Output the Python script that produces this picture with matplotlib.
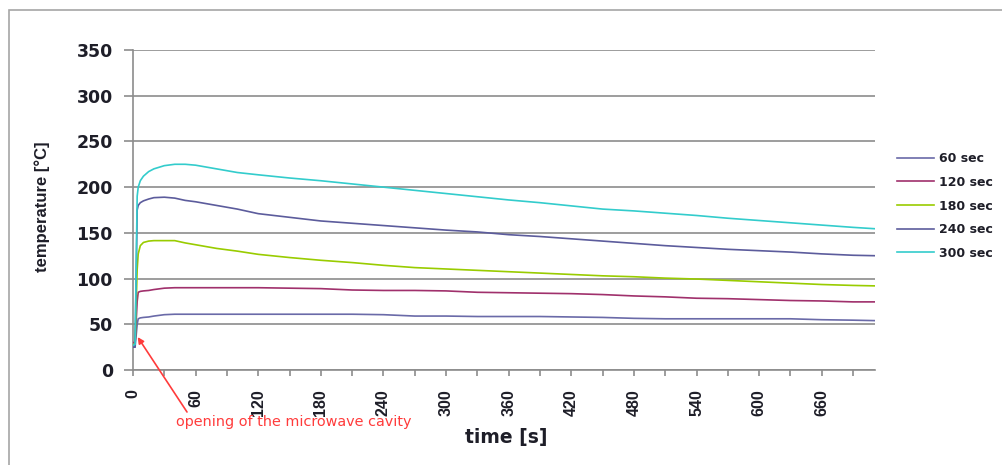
import matplotlib
matplotlib.use("Agg")

import matplotlib.pyplot as plt
from matplotlib.patches import Rectangle

# ── Data ────────────────────────────────────────────────────────────────────
time_s = [0, 2, 4, 5, 7, 10, 15, 20, 30, 40, 50, 60, 80, 100, 120, 150, 180,
          210, 240, 270, 300, 330, 360, 390, 420, 450, 480, 510, 540, 570,
          600, 630, 660, 690, 711]

t_60 = [25, 25, 50, 56, 57, 57.5, 58, 59, 60.5, 61, 61, 61, 61, 61, 61, 61, 61,
        61, 60.5, 59, 59, 58.5, 58.5, 58.5, 58, 57.5, 56.5, 56, 56, 56,
        56, 56, 55, 54.5, 54]
t_120 = [30, 30, 75, 85, 86, 86.5, 87, 88, 89.5, 90, 90, 90, 90, 90, 90, 89.5, 89,
         87.5, 87, 87, 86.5, 85, 84.5, 84, 83.5, 82.5, 81, 80, 78.5, 78,
         77, 76, 75.5, 74.5, 74.5]
t_180 = [28, 28, 110, 127, 136, 139.5, 141, 141.5, 141.5, 141.5, 139, 137, 133, 130, 126.5, 123, 120,
         117.5, 114.5, 112, 110.5, 109, 107.5, 106, 104.5, 103, 102, 100.5, 99.5, 98,
         96.5, 95, 93.5, 92.5, 92]
t_240 = [25, 25, 175, 180, 183, 185, 187, 188.5, 189, 188, 185.5, 184, 180, 176, 171, 167, 163,
         160.5, 158, 155.5, 153, 151, 148, 146, 143.5, 141, 138.5, 136, 134, 132,
         130.5, 129, 127, 125.5, 125]
t_300 = [27, 28, 190, 200, 207, 212, 217, 220, 223.5, 225, 225, 224, 220, 216, 213.5, 210, 207,
         203.5, 200, 196.5, 193, 189.5, 186, 183, 179.5, 176, 174, 171.5, 169, 166,
         163.5, 161, 158.5, 156, 154.5]

labels = ["60 sec", "120 sec", "180 sec", "240 sec", "300 sec"]
colors = ["#6a6aa8", "#a0306c", "#99cc00", "#5c5c9c", "#33cccc"]

y_ticks = [0, 50, 100, 150, 200, 250, 300, 350]
x_ticks = list(range(0, 691, 30))
x_labels = [str(v) if v % 60 == 0 else "" for v in x_ticks]

# ── Style ───────────────────────────────────────────────────────────────────
W, H = 1002, 465
_GRID = "#8c8c8c"
_TXT = "#1e1e28"
_RED = "#ff3b3b"
_NARROW = "Liberation Sans"   # rotated text: narrower digits than DejaVu
plt.rcParams["font.family"] = ["DejaVu Sans"]

fig = plt.figure(figsize=(W / 100, H / 100), dpi=100)
fig.patch.set_facecolor("white")

# outer chart border
fig.patches.append(Rectangle((9 / W, -0.05), 1.1, 1 - 10 / H + 0.05,
                             transform=fig.transFigure, fill=False,
                             edgecolor="#a6a6a6", linewidth=1.2))

ax = fig.add_axes([133 / W, (H - 370) / H, 742 / W, 320 / H])

for vals, lab, col in zip([t_60, t_120, t_180, t_240, t_300], labels, colors):
    ax.plot(time_s, vals, color=col, linewidth=1.2, label=lab, zorder=3)

ax.set_xlim(0, 711)
ax.set_ylim(0, 350)
ax.set_yticks(y_ticks)
ax.set_xticks(x_ticks)
ax.set_xticklabels(x_labels, rotation=90, va="top")

ax.grid(axis="y", color=_GRID, linewidth=1.2)
ax.set_axisbelow(True)
for side in ("top", "right"):
    ax.spines[side].set_visible(False)
for side in ("left", "bottom"):
    ax.spines[side].set_color(_GRID)
    ax.spines[side].set_linewidth(1.2)

ax.tick_params(axis="y", direction="out", length=6.5, width=1.2, color=_GRID,
               pad=8, labelsize=12.5, labelcolor=_TXT)
ax.tick_params(axis="x", direction="out", length=4.5, width=1.2, color=_GRID,
               pad=9, labelsize=11.5, labelcolor=_TXT)
for lbl in ax.get_yticklabels():
    lbl.set_fontweight("bold")
for lbl in ax.get_xticklabels():
    lbl.set_fontweight("bold")
    lbl.set_family(_NARROW)

fig.text(42 / W, 1 - 207 / H, "temperature [°C]", rotation=90,
         ha="center", va="center", fontsize=12, fontweight="bold",
         family=_NARROW, color=_TXT)
fig.text(506 / W, 1 - 437 / H, "time [s]", ha="center", va="center",
         fontsize=13.5, fontweight="bold", color=_TXT)

# annotation
ax.annotate("", xy=(4.5, 36), xytext=(187 / W, 1 - 412 / H),
            textcoords="figure fraction",
            arrowprops=dict(arrowstyle="-|>", color=_RED, lw=1.2,
                            mutation_scale=9, shrinkA=0, shrinkB=0))
fig.text(176 / W, 1 - 422 / H, "opening of the microwave cavity",
         ha="left", va="center", fontsize=10.4, color=_RED)

fig.legend(loc="center left", bbox_to_anchor=(897 / W, 1 - 206 / H),
           frameon=False, handlelength=2.95, handletextpad=0.4,
           labelspacing=0.85, borderpad=0, borderaxespad=0,
           prop={"size": 9, "weight": "bold"}, labelcolor=_TXT)

fig.savefig("out.png", dpi=100, facecolor="white")
